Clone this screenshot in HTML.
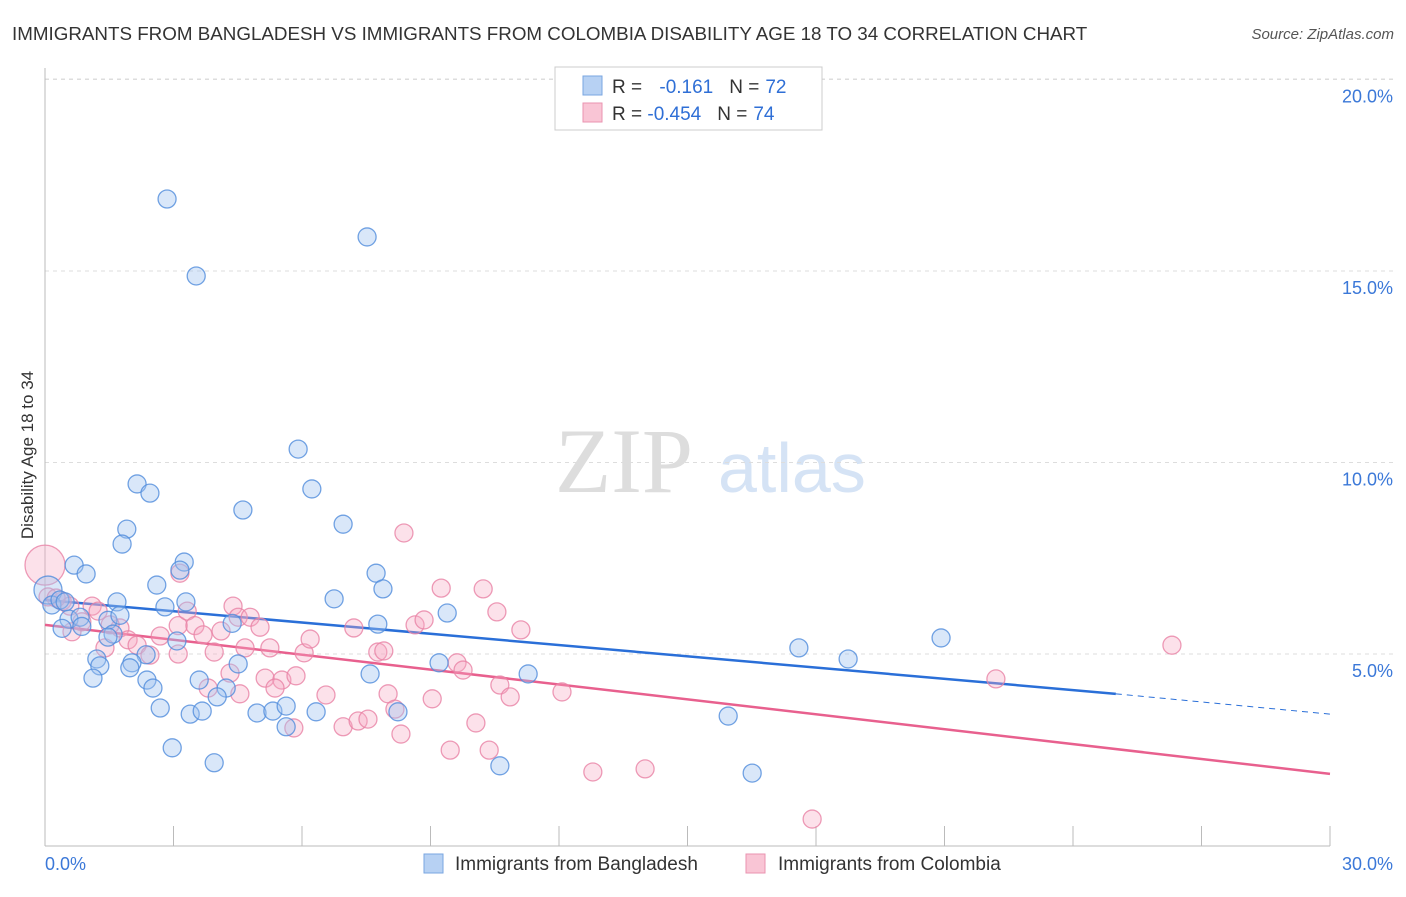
<!DOCTYPE html>
<html><head><meta charset="utf-8"><style>
body{margin:0;background:#fff;font-family:"Liberation Sans",sans-serif}
</style></head><body>
<svg id="chart" width="1406" height="892" xmlns="http://www.w3.org/2000/svg" font-family="Liberation Sans, sans-serif">
<text x="12" y="40" font-size="18.8" fill="#333">IMMIGRANTS FROM BANGLADESH VS IMMIGRANTS FROM COLOMBIA DISABILITY AGE 18 TO 34 CORRELATION CHART</text>
<text x="1394" y="39" font-size="15" fill="#555" text-anchor="end" font-style="italic">Source: ZipAtlas.com</text>
<g><text x="555" y="492" font-size="92" fill="#ddd" font-family="Liberation Serif, serif">ZIP</text><text x="718" y="492" font-size="70" fill="#d5e3f5">atlas</text></g>
<g id="grid"></g><g id="axes"></g><g id="trends"></g><g id="pts"></g>
<text transform="translate(33,455) rotate(-90)" font-size="17" fill="#333" text-anchor="middle">Disability Age 18 to 34</text>
<g>
<rect x="555" y="67" width="267" height="63" fill="#fff" stroke="#ccc"/>
<rect x="583" y="76" width="19" height="19" fill="#b7d1f3" stroke="#7aa6e0"/>
<rect x="583" y="103" width="19" height="19" fill="#f9c5d5" stroke="#ea93b0"/>
<text x="612" y="93" font-size="19" fill="#333">R = <tspan fill="#2f6fd6" dx="12">-0.161</tspan><tspan fill="#333" dx="16">N =</tspan><tspan fill="#2f6fd6" dx="6">72</tspan></text>
<text x="612" y="120" font-size="19" fill="#333">R = <tspan fill="#2f6fd6">-0.454</tspan><tspan fill="#333" dx="16">N =</tspan><tspan fill="#2f6fd6" dx="6">74</tspan></text>
</g>
<g>
<rect x="424" y="854" width="19" height="19" fill="#b7d1f3" stroke="#7aa6e0"/>
<text x="455" y="870" font-size="19" fill="#333">Immigrants from Bangladesh</text>
<rect x="746" y="854" width="19" height="19" fill="#f9c5d5" stroke="#ea93b0"/>
<text x="778" y="870" font-size="19" fill="#333">Immigrants from Colombia</text>
</g>
</svg>
<script>
const yTicks=[5,10,15,20];
const yTickLabels=["5.0%","10.0%","15.0%","20.0%"];
const xTickVals=[0,3,6,9,12,15,18,21,24,27,30];
const blueX=[2.85,7.52,3.53,5.91,6.23,2.15,2.45,4.62,6.96,1.91,1.80,0.68,0.96,3.25,3.15,7.73,7.89,2.61,0.07,0.16,0.35,0.47,1.68,2.80,3.29,6.75,9.39,0.56,0.82,1.47,1.75,0.40,0.86,4.37,7.77,1.59,1.47,3.08,2.36,1.21,1.28,2.03,1.98,4.51,9.20,11.28,1.12,2.38,2.52,3.60,4.23,4.02,2.69,3.39,3.67,4.95,5.32,5.63,6.33,8.24,5.63,2.97,3.95,10.62,15.95,16.51,17.60,18.75,20.92,7.59];
const blueY=[16.88,15.89,14.87,10.35,9.31,9.44,9.20,8.76,8.39,8.26,7.87,7.32,7.09,7.40,7.19,7.11,6.70,6.80,6.67,6.28,6.41,6.36,6.36,6.23,6.36,6.44,6.07,5.91,5.96,5.88,6.01,5.67,5.72,5.80,5.78,5.52,5.44,5.34,4.98,4.87,4.69,4.77,4.64,4.74,4.77,4.48,4.37,4.32,4.11,4.32,4.11,3.88,3.59,3.43,3.51,3.46,3.51,3.64,3.49,3.49,3.10,2.55,2.16,2.08,3.38,1.89,5.16,4.87,5.42,4.48];
const pinkX=[0,0.07,0.40,0.58,1.10,1.24,0.86,1.75,1.52,1.94,1.40,2.15,2.45,2.69,3.11,3.11,3.32,3.15,3.50,3.69,3.95,4.11,4.39,4.51,4.79,5.02,4.67,5.25,6.05,6.19,4.32,3.81,4.55,5.14,5.53,5.37,5.86,6.56,7.21,7.77,7.91,8.64,8.85,9.25,10.23,8.38,10.55,11.11,9.62,9.76,10.62,10.86,12.07,8.01,8.17,9.04,6.96,7.31,7.54,5.81,8.31,9.46,10.06,10.37,12.79,14.01,17.91,22.20,26.31,0.26,0.63];
const pinkY=[7.32,6.49,6.38,6.25,6.25,6.12,5.84,5.68,5.76,5.37,5.16,5.23,4.97,5.47,5.00,5.74,6.12,7.11,5.74,5.50,5.05,5.60,6.25,5.96,5.96,5.70,5.16,5.16,5.03,5.39,4.50,4.11,3.96,4.37,4.32,4.11,4.43,3.93,5.68,5.05,5.08,5.76,5.89,6.72,6.70,8.16,6.10,5.63,4.77,4.58,4.19,3.88,4.01,3.96,3.56,3.83,3.10,3.25,3.30,3.07,2.91,2.49,3.20,2.49,1.92,2.00,0.69,4.35,5.23,6.46,5.58];
const blueTrend=[6.41,3.96,3.43];
const pinkTrend=[5.76,1.87];
const X=v=>45+v*1285/30, Y=v=>845.5-v*38.3;
const NS="http://www.w3.org/2000/svg";
function mk(parent,tag,attrs){const e=document.createElementNS(NS,tag);for(const k in attrs)e.setAttribute(k,attrs[k]);document.getElementById(parent).appendChild(e);return e;}
yTicks.forEach((t,i)=>{
 const l=mk('grid','line',{x1:45,x2:1393,y1:Y(t),y2:Y(t),stroke:'#ddd','stroke-dasharray':'4,4'});
 
 
 const tx=mk('grid','text',{x:1393,y:Y(t)+23,'font-size':18,fill:'#3b78d8','text-anchor':'end'});
 tx.textContent=yTickLabels[i];
 
 
});
const topGrid=mk('grid','line',{x1:45,x2:1393,y1:79,y2:79,stroke:'#ddd','stroke-dasharray':'4,4'});


const ya=mk('axes','line',{x1:45,x2:45,y1:68,y2:846,stroke:'#bbb'});


const xa=mk('axes','line',{x1:45,x2:1330,y1:846,y2:846,stroke:'#bbb'});


xTickVals.forEach(v=>{
 const t=mk('axes','line',{x1:X(v),x2:X(v),y1:826,y2:846,stroke:'#bbb'});
 
 
});
[[0,"0.0%","start",45],[30,"30.0%","end",1393]].forEach(a=>{
 const t=mk('axes','text',{x:a[3],y:870,'font-size':18,fill:'#3b78d8','text-anchor':a[2]});
 t.textContent=a[1];
 
 
});
pinkX.forEach((x,i)=>{
 const c=mk('pts','circle',{cx:X(x),cy:Y(pinkY[i]),r:i===0?20:9,fill:'rgba(246,170,196,0.35)',stroke:'rgba(232,130,165,0.8)','stroke-width':1.3});
 
 
});
blueX.forEach((x,i)=>{
 const c=mk('pts','circle',{cx:X(x),cy:Y(blueY[i]),r:i===18?14:9,fill:'rgba(160,195,240,0.4)',stroke:'rgba(80,140,220,0.8)','stroke-width':1.3});
 
 
});
const b1=mk('trends','line',{x1:X(0),y1:Y(blueTrend[0]),x2:X(25),y2:Y(blueTrend[1]),stroke:'#2a6fd8','stroke-width':2.5});


const b2=mk('trends','line',{x1:X(25),y1:Y(blueTrend[1]),x2:X(30),y2:Y(blueTrend[2]),stroke:'#2a6fd8','stroke-width':1,'stroke-dasharray':'6,5'});


const p1=mk('trends','line',{x1:X(0),y1:Y(pinkTrend[0]),x2:X(30),y2:Y(pinkTrend[1]),stroke:'#e8608e','stroke-width':2.5});


</script>
</body></html>
